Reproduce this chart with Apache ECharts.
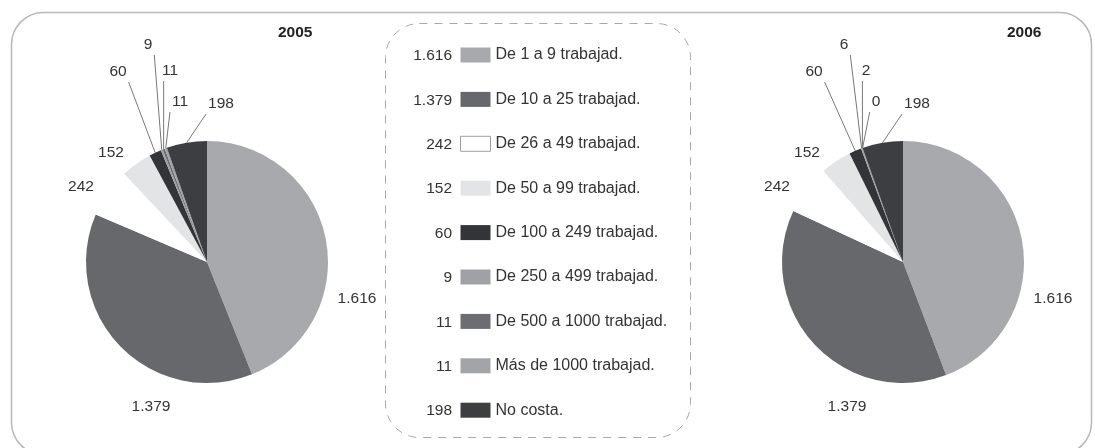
<!DOCTYPE html>
<html>
<head>
<meta charset="utf-8">
<script src="https://cdn.jsdelivr.net/npm/echarts@6/dist/echarts.min.js"></script>
<style>
  html, body { margin: 0; padding: 0; background: #fff; }
  #viz { width: 1095px; height: 448px; }
</style>
</head>
<body>
<div id="viz"></div>
<script>
const categories = [
  'De 1 a 9 trabajad.',
  'De 10 a 25 trabajad.',
  'De 26 a 49 trabajad.',
  'De 50 a 99 trabajad.',
  'De 100 a 249 trabajad.',
  'De 250 a 499 trabajad.',
  'De 500 a 1000 trabajad.',
  'Más de 1000 trabajad.',
  'No costa.',
]
const values2005 = [1616, 1379, 242, 152, 60, 9, 11, 11, 198]
const values2006 = [1616, 1379, 242, 152, 60, 6, 2, 0, 198]
const years = ['2005', '2006']

const colors = ['#a8a9ad', '#67686c', '#ffffff', '#e3e4e6', '#333437', '#a0a1a5', '#6c6d71', '#a3a4a8', '#3d3e42']
// which slices get a leader line
const withLine = [false, false, false, false, true, true, true, true, true]
// label position, offset from the pie centre
const labelOffset = [
  [150, 37], [-56, 145], [-126, -75], [-96, -109], [-89, -190],
  [-59, -217], [-37, -191], [-27, -160], [14, -158],
]

const centers = [[207, 262], [903, 262]]
const R = 121
const FONT = 'Liberation Sans, Arial, sans-serif'

// thousands with a dot, as in the source
const fmt = (v) => String(v).replace(/\B(?=(\d{3})+(?!\d))/g, '.')

const buildData = (vals) =>
  vals.map((v, i) => ({
    name: categories[i],
    value: v,
    itemStyle: { color: colors[i] },
    labelLine: { show: withLine[i] },
  }))

const layoutLabel = (params) => {
  const c = centers[params.seriesIndex]
  const off = labelOffset[params.dataIndex]
  const x = c[0] + off[0]
  const y = c[1] + off[1]
  const out = { x, y, align: 'center', verticalAlign: 'middle' }
  const pts = params.labelLinePoints
  if (withLine[params.dataIndex] && pts) {
    const w = params.labelRect.width
    const h = params.labelRect.height
    const pad = 2
    const x0 = x - w / 2 - pad, x1 = x + w / 2 + pad
    const y0 = y - h / 2 - pad, y1 = y + h / 2 + pad
    const s = pts[0]
    const end = [Math.min(Math.max(s[0], x0), x1), Math.min(Math.max(s[1], y0), y1)]
    out.labelLinePoints = [s, end, end]
  }
  return out
}

const legendTop = 47
const legendItemH = 16 // legend row height (text box is taller than the icon)
const legendPitch = 44.4

const myChart = echarts.init(document.getElementById('viz'))

myChart.setOption({
  animation: false,
  textStyle: { fontFamily: FONT },
  title: years.map((y, i) => ({
    text: y,
    left: i === 0 ? 278 : 1007,
    top: 25,
    padding: 0,
    textStyle: { fontSize: 15.5, fontWeight: 'bold', color: '#222', fontFamily: FONT },
  })),
  legend: {
    orient: 'vertical',
    left: 460,
    top: legendTop,
    padding: 0,
    itemWidth: 30,
    itemHeight: 15,
    itemGap: legendPitch - legendItemH,
    selectedMode: false,
    icon: 'rect',
    textStyle: { fontSize: 16, color: '#333', fontFamily: FONT },
    data: categories.map((n, i) => ({
      name: n,
      itemStyle: i === 2 ? { color: '#fff', borderColor: '#a0a0a0', borderWidth: 1 } : { borderWidth: 0 },
    })),
  },
  graphic: [
    {
      type: 'rect',
      shape: { x: 11.5, y: 12.5, width: 1080, height: 442, r: 32 },
      style: { fill: 'none', stroke: '#b8b8b8', lineWidth: 1.5 },
      z: -1,
    },
    {
      type: 'rect',
      shape: { x: 385.5, y: 23.5, width: 305, height: 414, r: 34 },
      style: { fill: 'none', stroke: '#a8a8a8', lineWidth: 1, lineDash: [8, 7] },
      z: -1,
    },
    ...values2005.map((v, i) => ({
      type: 'text',
      x: 452,
      y: legendTop + i * legendPitch + legendItemH / 2 + 1,
      style: {
        text: fmt(v),
        align: 'right',
        verticalAlign: 'middle',
        fontSize: 15.5,
        fill: '#333',
        fontFamily: FONT,
      },
    })),
  ],
  series: [values2005, values2006].map((vals, s) => ({
    type: 'pie',
    name: years[s],
    center: centers[s],
    radius: R,
    startAngle: 90,
    clockwise: true,
    avoidLabelOverlap: false,
    itemStyle: { borderWidth: 0 },
    emphasis: { disabled: true },
    label: {
      show: true,
      position: 'outside',
      formatter: (p) => fmt(p.value),
      fontSize: 15.5,
      color: '#333',
      fontFamily: FONT,
    },
    labelLine: {
      length: 20,
      length2: 0,
      smooth: false,
      lineStyle: { color: '#777', width: 1 },
    },
    labelLayout: layoutLabel,
    data: buildData(vals),
  })),
})
</script>
</body>
</html>
